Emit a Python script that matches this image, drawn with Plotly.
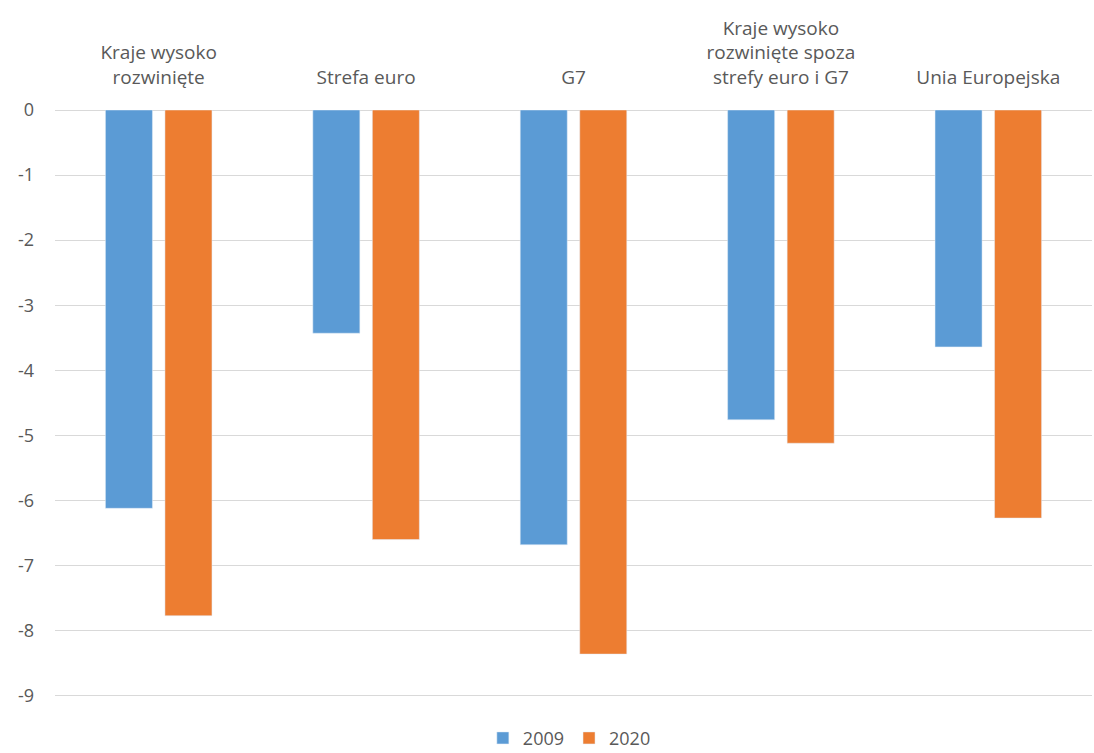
import plotly.graph_objects as go

categories = [
    "Kraje wysoko<br>rozwinięte",
    "Strefa euro",
    "G7",
    "Kraje wysoko<br>rozwinięte spoza<br>strefy euro i G7",
    "Unia Europejska",
]
values_2009 = [-6.12, -3.43, -6.68, -4.76, -3.64]
values_2020 = [-7.77, -6.60, -8.36, -5.12, -6.27]
y_ticks = [0, -1, -2, -3, -4, -5, -6, -7, -8, -9]

font_family = "Open Sans, Lato, sans-serif"
text_color = "#595959"

fig = go.Figure()
fig.add_trace(go.Bar(name="2009", x=categories, y=values_2009, marker_color="#5B9BD5"))
fig.add_trace(go.Bar(name="2020", x=categories, y=values_2020, marker_color="#ED7D31"))

fig.update_layout(
    width=1094,
    height=753,
    paper_bgcolor="white",
    plot_bgcolor="white",
    margin=dict(l=55, r=2, t=110, b=54, autoexpand=False),
    barmode="group",
    bargap=0.426,
    bargroupgap=0.21,
    font=dict(family=font_family, size=18, color=text_color),
    showlegend=True,
    legend=dict(
        orientation="h",
        x=0.496,
        xanchor="center",
        yref="paper",
        y=-0.098,
        yanchor="bottom",
        font=dict(size=18, color=text_color),
        itemwidth=30,
        traceorder="normal",
    ),
    xaxis=dict(
        side="top",
        showline=False,
        showgrid=False,
        ticks="",
        ticklabelstandoff=21,
        tickfont=dict(size=19, color=text_color),
    ),
    yaxis=dict(
        range=[-9.05, 0],
        tickvals=y_ticks,
        ticktext=[str(v) for v in y_ticks],
        showgrid=True,
        gridcolor="#D9D9D9",
        gridwidth=1.3,
        zeroline=True,
        zerolinecolor="#D9D9D9",
        zerolinewidth=1.3,
        showline=False,
        ticks="",
        ticklabelstandoff=20,
        tickfont=dict(size=18, color=text_color),
    ),
)

fig.write_html("out.html")
